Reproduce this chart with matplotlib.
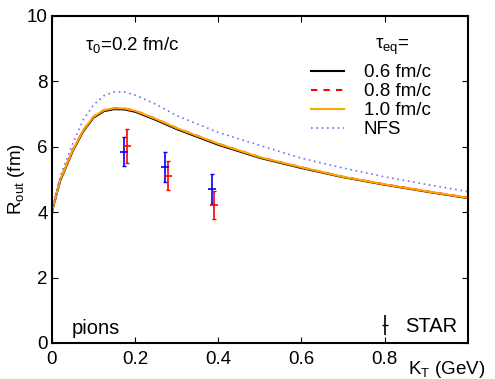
import numpy as np
import matplotlib
matplotlib.use("Agg")
import matplotlib.pyplot as plt

plt.rcParams['font.family'] = ['Liberation Sans', 'DejaVu Sans']
plt.rcParams['mathtext.fontset'] = 'custom'
plt.rcParams['mathtext.rm'] = 'Liberation Sans'
plt.rcParams['mathtext.it'] = 'Liberation Sans'

# Model curves
kt = [0.0, 0.02, 0.05, 0.075, 0.1, 0.125, 0.15, 0.175, 0.2, 0.25, 0.3,
      0.4, 0.5, 0.6, 0.7, 0.8, 0.9, 1.0]
r_06 = [4.02, 4.97, 5.87, 6.47, 6.89, 7.09, 7.15, 7.14, 7.07, 6.82, 6.54,
        6.06, 5.66, 5.35, 5.07, 4.84, 4.63, 4.43]
r_08 = [4.04, 5.0, 5.9, 6.5, 6.92, 7.12, 7.18, 7.17, 7.1, 6.85, 6.57,
        6.09, 5.68, 5.37, 5.08, 4.85, 4.64, 4.44]
r_10 = [4.04, 5.0, 5.9, 6.5, 6.92, 7.12, 7.18, 7.17, 7.1, 6.85, 6.57,
        6.09, 5.68, 5.37, 5.08, 4.85, 4.64, 4.44]
r_nfs = [4.04, 5.1, 6.1, 6.82, 7.28, 7.56, 7.68, 7.67, 7.58, 7.3, 6.95,
         6.44, 6.04, 5.65, 5.35, 5.08, 4.85, 4.63]

# STAR data (two sets)
star_b_kt = [0.173, 0.272, 0.385]
star_b_r = [5.84, 5.38, 4.71]
star_b_lo = [0.43, 0.46, 0.46]
star_b_hi = [0.46, 0.46, 0.46]
star_r_kt = [0.180, 0.279, 0.390]
star_r_r = [6.02, 5.10, 4.22]
star_r_lo = [0.52, 0.42, 0.43]
star_r_hi = [0.52, 0.47, 0.43]

legend_labels = ["0.6 fm/c", "0.8 fm/c", "1.0 fm/c", "NFS"]
x_ticks = [0, 0.2, 0.4, 0.6, 0.8]
x_tick_labels = ['0', '0.2', '0.4', '0.6', '0.8']
y_ticks = [0, 2, 4, 6, 8, 10]

fig = plt.figure(figsize=(4.95, 3.79), dpi=100)
ax = fig.add_axes([0.105, 0.095, 0.840, 0.863])

fs = 13.5
l1, = ax.plot(kt, r_06, color='black', lw=1.5, label=legend_labels[0])
l2, = ax.plot(kt, r_08, color='red', lw=1.5, ls=(0, (3, 3)), label=legend_labels[1])
l3, = ax.plot(kt, r_10, color='orange', lw=1.5, label=legend_labels[2])
l4, = ax.plot(kt, r_nfs, color='#7070ff', lw=1.2, ls=(0, (1, 2.2)), label=legend_labels[3])

ax.errorbar(star_b_kt, star_b_r, yerr=[star_b_lo, star_b_hi], fmt='none',
            ecolor='blue', elinewidth=1.2, capsize=1.5, capthick=1.0)
ax.errorbar(star_b_kt, star_b_r, fmt='_', color='blue', markersize=6, mew=1.2)
ax.errorbar(star_r_kt, star_r_r, yerr=[star_r_lo, star_r_hi], fmt='none',
            ecolor='red', elinewidth=1.2, capsize=1.5, capthick=1.0)
ax.errorbar(star_r_kt, star_r_r, fmt='_', color='red', markersize=6, mew=1.2)

ax.set_xlim(0, 1.0)
ax.set_ylim(0, 10)
ax.set_xticks(x_ticks)
ax.set_xticklabels(x_tick_labels)
ax.set_yticks(y_ticks)
ax.tick_params(direction='in', top=True, right=True, length=4, width=0.8,
               labelsize=fs, pad=3)
ax.tick_params(axis='x', pad=6)
for s in ax.spines.values():
    s.set_linewidth(1.5)

ax.set_ylabel(r'R$_{\rm out}$ (fm)', fontsize=fs, labelpad=0)
ax.text(1.043, -0.082, r'K$_{\rm T}$ (GeV)', transform=ax.transAxes,
        ha='right', va='center', fontsize=fs)

ax.text(0.193, 0.91, r'$\tau_0$=0.2 fm/c', transform=ax.transAxes,
        ha='center', va='center', fontsize=fs)
ax.text(0.818, 0.905, r'$\tau_{\rm eq}$=', transform=ax.transAxes,
        ha='center', va='center', fontsize=fs)
ax.text(0.048, 0.045, 'pions', transform=ax.transAxes, ha='left',
        va='center', fontsize=fs + 1)

leg = ax.legend(handles=[l1, l2, l3, l4], loc='upper left',
                bbox_to_anchor=(0.622, 0.852), frameon=False, fontsize=fs,
                handlelength=1.76, handletextpad=1.07, labelspacing=0.1,
                borderpad=0.0, borderaxespad=0.0)

star_h = ax.errorbar([np.nan], [np.nan], yerr=[[0.2]], fmt='_', color='black',
                     markersize=5, elinewidth=1.2, mew=1.0, capsize=0)
leg2 = ax.legend(handles=[star_h], labels=['STAR'], loc='lower right',
                 bbox_to_anchor=(1.0, -0.01), frameon=False, fontsize=fs + 1,
                 handlelength=0.8, handletextpad=0.6, borderaxespad=0.1)
ax.add_artist(leg)

fig.savefig('out.png', dpi=100)
